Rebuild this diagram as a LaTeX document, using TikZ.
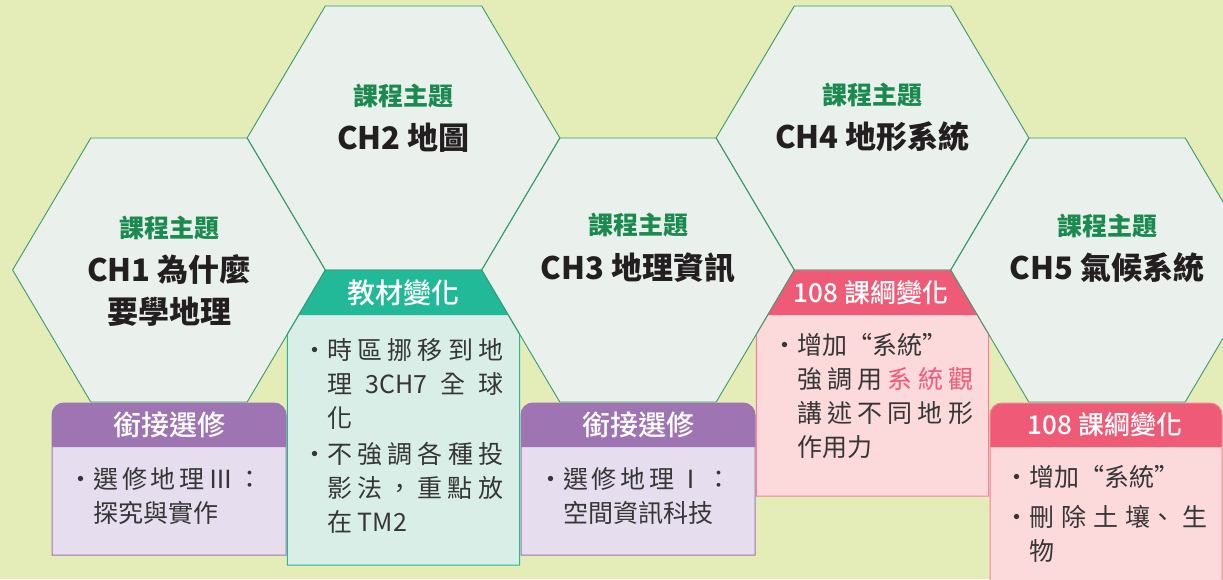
\documentclass[tikz,border=0pt]{standalone}
\usepackage{fontspec}
\setmainfont{Noto Sans CJK TC}
\newfontfamily\medfont{Noto Sans CJK TC Medium}
\usepackage{tikz}
\usetikzlibrary{positioning}
\definecolor{bggreen}{HTML}{E4ECB7}
\definecolor{hexbg}{HTML}{EAF1EC}
\definecolor{hexgreen}{HTML}{3C9A6B}
\definecolor{topicgreen}{HTML}{1B8A50}
\definecolor{titleblack}{HTML}{231F20}
\definecolor{itemgray}{HTML}{363636}
\definecolor{purplehead}{HTML}{9E74B2}
\definecolor{purplebody}{HTML}{E6DDEE}
\definecolor{tealhead}{HTML}{22B999}
\definecolor{tealbody}{HTML}{D9EEE7}
\definecolor{pinkhead}{HTML}{EF5B77}
\definecolor{pinkbody}{HTML}{FCD9DA}
\definecolor{pinkline}{HTML}{F08496}
\definecolor{accentpink}{HTML}{EE5C7B}

\begin{document}
\begin{tikzpicture}[x=1pt, y=-1pt, node distance=15pt]
\tikzstyle{hexfill}=[fill=hexbg]
\tikzstyle{hexline}=[draw=hexgreen, line width=0.9pt]
\tikzstyle{topic}=[inner sep=0pt, text=topicgreen, font=\fontsize{25}{30}\selectfont\bfseries]
\tikzstyle{title}=[inner sep=0pt, text=titleblack, align=center, font=\fontsize{31}{42}\selectfont\bfseries]
\tikzstyle{head}=[inner sep=0pt, text=white, font=\fontsize{28}{32}\selectfont\medfont]
\tikzstyle{item}=[inner sep=0pt, anchor=north west, align=left, text=itemgray, font=\fontsize{25}{34}\selectfont]

\useasboundingbox[fill=bggreen] (0,0) rectangle (1223,579);

\coordinate (c1) at (169,270);
\coordinate (c2) at (403.5,138);
\coordinate (c3) at (638,270);
\coordinate (c4) at (872.5,138);
\coordinate (c5) at (1107,270);

\foreach \i in {1,...,5}
  \fill[hexfill] (c\i) ++(-156.4,0) -- ++(78.2,-132) -- ++(156.4,0) -- ++(78.2,132) -- ++(-78.2,132) -- ++(-156.4,0) -- cycle;

\fill[purplebody] (52,555) -- (52,415) arc[start angle=180, end angle=270, radius=12] -- (274,403) arc[start angle=270, end angle=360, radius=12] -- (286,555) -- cycle;
\fill[purplehead] (52,447) -- (52,415) arc[start angle=180, end angle=270, radius=12] -- (274,403) arc[start angle=270, end angle=360, radius=12] -- (286,447) -- cycle;
\draw[purplehead, line width=1pt] (52,555) -- (52,415) arc[start angle=180, end angle=270, radius=12] -- (274,403) arc[start angle=270, end angle=360, radius=12] -- (286,555) -- cycle;

\fill[purplebody] (521,555) -- (521,415) arc[start angle=180, end angle=270, radius=12] -- (743,403) arc[start angle=270, end angle=360, radius=12] -- (755,555) -- cycle;
\fill[purplehead] (521,447) -- (521,415) arc[start angle=180, end angle=270, radius=12] -- (743,403) arc[start angle=270, end angle=360, radius=12] -- (755,447) -- cycle;
\draw[purplehead, line width=1pt] (521,555) -- (521,415) arc[start angle=180, end angle=270, radius=12] -- (743,403) arc[start angle=270, end angle=360, radius=12] -- (755,555) -- cycle;

\fill[tealbody] (325.3,270) -- (481.7,270) -- (519.6,334) -- (519.6,565) -- (287.4,565) -- (287.4,334) -- cycle;
\fill[tealhead] (325.3,270) -- (481.7,270) -- (508.4,315) -- (298.6,315) -- cycle;
\draw[tealhead, line width=1pt] (325.3,270) -- (481.7,270) -- (519.6,334) -- (519.6,565) -- (287.4,565) -- (287.4,334) -- cycle;

\fill[pinkbody] (794.3,270) -- (950.7,270) -- (988.6,334) -- (988.6,496) -- (756.4,496) -- (756.4,334) -- cycle;
\fill[pinkhead] (794.3,270) -- (950.7,270) -- (977.4,315) -- (767.6,315) -- cycle;
\draw[pinkline, line width=1pt] (794.3,270) -- (950.7,270) -- (988.6,334) -- (988.6,496) -- (756.4,496) -- (756.4,334) -- cycle;

\fill[pinkbody] (990,590) -- (990,415) arc[start angle=180, end angle=270, radius=12] -- (1210,403) arc[start angle=270, end angle=360, radius=12] -- (1222,590) -- cycle;
\fill[pinkhead] (990,447) -- (990,415) arc[start angle=180, end angle=270, radius=12] -- (1210,403) arc[start angle=270, end angle=360, radius=12] -- (1222,447) -- cycle;
\draw[pinkline, line width=1pt] (990,590) -- (990,415) arc[start angle=180, end angle=270, radius=12] -- (1210,403) arc[start angle=270, end angle=360, radius=12] -- (1222,590);

\foreach \i in {1,...,5}
  \draw[hexline] (c\i) ++(-156.4,0) -- ++(78.2,-132) -- ++(156.4,0) -- ++(78.2,132) -- ++(-78.2,132) -- ++(-156.4,0) -- cycle;

\node[title] (h1) at (169,291) {CH1 為什麼\\要學地理};
\node[title] (h2) at (403.5,138) {CH2 地圖};
\node[title] (h3) at (638,268) {CH3 地理資訊};
\node[title] (h4) at (872.5,137) {CH4 地形系統};
\node[title] (h5) at (1107,268) {CH5 氣候系統};

\node[topic] (t1) [above=of h1] {課程主題};
\node[topic] (t2) [above=of h2] {課程主題};
\node[topic] (t3) [above=of h3] {課程主題};
\node[topic] (t4) [above=of h4] {課程主題};
\node[topic] (t5) [above=of h5] {課程主題};

\node[head] (g1) at (169,425) {銜接選修};
\node[head] (g2) at (403.5,293) {教材變化};
\node[head, font=\fontsize{26}{32}\selectfont\medfont] (g3) at (871,293) {108 課綱變化};
\node[head] (g4) at (638,425) {銜接選修};
\node[head, font=\fontsize{26}{32}\selectfont\medfont] (g5) at (1105,425) {108 課綱變化};

\node[item] (i1) at (68,467) {・\makebox[169pt][s]{選 修 地 理 Ⅲ ：}\\
\hspace*{1em}探究與實作};
\node[item] (i2) at (302,338) {・\makebox[176pt][s]{時 區 挪 移 到 地}\\
\hspace*{1em}\makebox[176pt][s]{理 3CH7 全 球}\\
\hspace*{1em}化\\[2pt]
・\makebox[176pt][s]{不 強 調 各 種 投}\\
\hspace*{1em}\makebox[176pt][s]{影 法 ， 重 點 放}\\
\hspace*{1em}在 TM2};
\node[item] (i3) at (772,333) {・增加“系統”\\
\hspace*{1em}\makebox[176pt][s]{強 調 用 \textcolor{accentpink}{系 統 觀}}\\
\hspace*{1em}\makebox[176pt][s]{講 述 不 同 地 形}\\
\hspace*{1em}作用力};
\node[item] (i4) at (538,467) {・\makebox[167pt][s]{選 修 地 理 Ⅰ ：}\\
\hspace*{1em}空間資訊科技};
\node[item] (i5) at (1004,465) {・增加“系統”\\[6pt]
・\makebox[178pt][s]{刪 除 土 壤、 生}\\
\hspace*{1em}物};
\end{tikzpicture}
\end{document}
